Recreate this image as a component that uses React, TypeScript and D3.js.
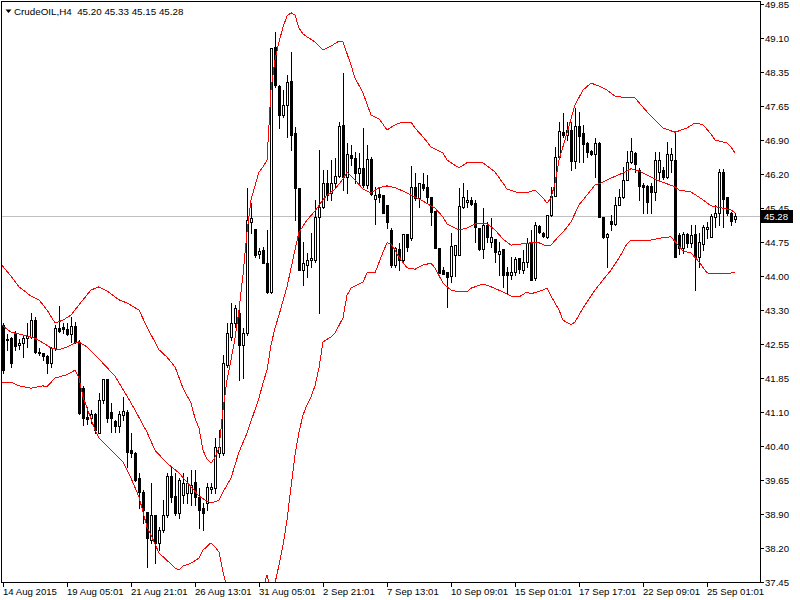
import React from "react";
import * as d3 from "d3";

const symbolName = "CrudeOIL,H4";

const opens = [42.91,42.59,42.64,42.74,42.49,42.53,42.64,42.66,43.02,42.33,42.31,42.25,42.10,42.42,42.85,42.87,42.83,42.72,42.89,42.55,
41.55,40.93,40.90,40.99,40.58,41.29,41.75,41.03,40.84,40.73,40.97,41.03,40.21,40.15,39.61,39.31,38.88,38.27,38.81,38.21,
38.49,38.81,39.65,39.22,38.85,39.24,39.29,39.29,39.52,39.20,38.96,39.07,39.37,39.39,40.15,40.15,42.05,42.66,42.96,43.18,
42.48,42.74,45.14,44.99,44.45,44.53,44.25,43.63,48.92,48.08,47.45,47.67,48.19,47.06,45.87,44.10,44.21,44.32,44.32,45.25,
45.46,45.98,45.77,45.98,46.13,47.24,46.11,46.59,46.52,46.20,46.31,45.94,46.50,45.64,45.74,45.72,45.51,44.97,44.21,44.56,
44.32,44.88,44.79,45.90,45.66,45.96,45.90,45.68,45.38,44.58,44.10,44.06,43.97,44.43,44.43,45.46,45.57,45.62,45.55,45.01,
44.56,45.08,44.71,44.77,44.45,44.56,44.06,43.99,44.06,44.36,44.10,44.27,44.69,43.93,45.05,44.90,44.82,45.29,45.70,46.54,
47.09,47.02,47.13,46.46,47.21,47.06,46.85,46.67,46.61,46.85,45.25,44.82,45.16,45.10,45.51,45.68,46.05,46.44,46.63,46.26,
45.94,45.92,45.92,45.79,46.22,46.26,46.11,46.48,46.48,44.86,44.58,44.88,44.69,44.88,44.38,44.67,44.99,44.82,45.25,45.33,
46.22,45.68,45.33,45.20];

const highs = [42.95,42.72,42.66,42.79,42.61,42.70,42.96,43.18,43.09,42.42,42.31,42.27,42.44,42.91,43.33,42.96,42.96,43.09,42.98,42.59,
41.60,41.14,41.08,41.01,41.45,41.75,41.75,41.23,40.86,41.06,41.36,41.08,40.58,40.17,39.72,39.35,38.88,39.50,38.81,38.55,
39.13,39.72,39.85,39.72,39.61,39.72,39.63,39.78,39.78,39.39,39.07,39.50,39.50,40.47,40.65,42.27,42.96,43.39,43.35,43.31,
42.85,45.87,45.55,44.99,44.58,44.60,44.97,48.90,49.24,48.10,47.99,48.32,48.81,47.19,45.87,44.71,44.47,44.90,45.62,46.70,
46.26,46.26,46.48,46.52,47.30,48.36,46.85,46.80,46.65,46.63,47.17,46.80,46.54,45.89,45.87,45.72,45.51,45.01,44.60,44.69,
44.88,44.88,46.35,46.20,45.98,46.20,46.16,45.68,45.38,44.58,44.17,44.06,44.90,44.64,45.87,45.98,45.83,45.68,45.62,45.01,
45.44,45.14,45.23,44.77,44.71,44.56,44.17,44.38,44.38,44.36,44.53,44.79,44.97,45.14,45.08,44.92,45.29,45.90,46.76,47.30,
47.49,47.30,47.30,47.60,47.52,47.24,46.87,46.70,46.95,46.87,45.25,44.90,45.29,45.68,45.85,46.33,46.67,46.95,46.65,46.31,
45.98,45.94,45.98,46.65,46.65,46.33,46.87,46.74,47.09,44.90,44.92,44.90,45.08,45.08,44.90,45.08,45.14,45.31,45.51,46.29,
46.29,45.68,45.36,45.33];

const lows = [41.88,42.38,42.01,42.38,42.40,42.22,42.44,42.64,42.31,42.27,42.16,41.88,42.01,42.38,42.76,42.74,42.70,42.55,42.53,41.00,
40.75,40.78,40.80,40.58,40.58,41.23,40.82,40.60,40.60,40.60,40.86,39.85,40.06,39.54,38.96,38.64,37.69,38.21,37.77,38.05,
38.44,38.77,39.09,38.81,38.75,39.07,39.07,39.03,39.03,38.53,38.49,38.92,39.29,39.29,40.06,40.11,42.01,42.59,42.87,41.73,
41.77,42.70,44.90,44.38,44.36,44.25,43.61,43.61,48.06,47.17,47.41,46.98,46.70,45.18,44.10,43.78,43.95,44.17,44.27,43.17,
45.44,45.62,45.62,45.89,46.11,45.83,45.77,46.37,45.98,45.98,45.89,45.87,45.72,45.10,45.57,45.33,45.01,44.17,44.17,44.10,
44.27,44.51,44.75,45.62,45.46,45.83,45.55,45.08,44.58,44.04,44.02,43.30,43.84,43.97,44.43,45.44,45.46,45.51,44.71,44.53,
44.36,44.71,44.60,44.27,44.00,43.74,43.61,43.91,43.99,44.04,44.04,44.17,43.89,43.89,44.90,44.82,44.79,45.27,45.70,46.54,
46.98,46.91,46.26,46.31,46.44,46.44,46.55,46.59,46.11,45.25,44.79,44.17,44.97,45.08,45.51,45.66,46.05,46.41,46.22,45.62,
45.33,45.33,45.33,45.62,46.05,46.07,46.09,46.22,44.38,44.45,44.47,44.60,44.60,43.67,44.17,44.53,44.79,44.82,45.03,45.08,
45.03,45.29,45.08,45.15];

const closes = [41.94,42.62,42.10,42.46,42.53,42.64,42.68,43.02,42.33,42.31,42.25,42.10,42.42,42.85,42.79,42.83,42.72,42.89,42.55,41.01,
40.90,40.88,40.99,40.65,41.29,41.75,40.90,40.90,40.73,40.99,41.06,40.17,40.15,39.57,39.31,38.92,38.31,38.81,38.21,38.49,
38.81,39.65,39.20,38.85,39.57,39.50,39.50,39.46,39.20,38.92,38.85,39.42,39.42,40.28,40.28,42.10,42.74,42.96,43.28,42.48,
42.74,45.18,45.23,44.43,44.51,44.25,43.63,48.90,48.10,47.45,47.67,48.17,47.02,45.87,44.10,44.25,44.32,44.36,45.25,45.46,
45.99,45.72,45.99,46.13,47.21,46.11,46.61,46.52,46.20,46.31,45.94,46.50,45.74,45.72,45.68,45.33,45.14,44.21,44.58,44.32,
44.88,44.60,45.90,45.66,45.98,45.87,45.68,45.36,44.58,44.04,44.02,43.95,44.62,44.64,45.49,45.68,45.62,45.53,45.03,44.56,
45.08,44.82,44.82,44.49,44.51,43.99,43.99,44.06,44.34,44.12,44.27,44.69,43.89,45.08,44.92,44.84,45.29,45.70,46.54,47.11,
47.02,47.13,46.46,47.21,47.00,46.83,46.65,46.61,46.85,45.25,44.82,44.88,45.10,45.51,45.68,46.05,46.44,46.67,46.39,45.92,
45.90,45.57,45.79,46.48,46.48,46.11,46.61,46.61,44.38,44.58,44.88,44.69,44.86,44.38,44.71,45.03,45.03,45.27,45.33,46.22,
45.64,45.33,45.16,45.28];

// Bollinger bands: [bar index, price]
const upperBand: [number, number][] = [[-1,44.28],[2,43.97],[4,43.74],[7,43.54],[9,43.46],[11,43.24],[13,42.96],[15,43.02],[17,43.13],[20,43.46],[22,43.67],[24,43.74],[26,43.65],[29,43.46],[31,43.39],[34,43.24],[36,42.87],[39,42.38],[41,42.22],[43,42.01],[45,41.55],[47,41.23],[48,40.90],[49,40.69],[50,40.21],[51,40.02],[52,39.93],[53,40.06],[54,40.26],[55,41.08],[56,41.73],[57,42.16],[58,42.63],[59,43.24],[60,44.00],[61,44.92],[62,45.62],[63,45.92],[64,46.22],[65,46.33],[66,46.48],[67,47.99],[68,48.64],[69,49.03],[70,49.35],[71,49.59],[72,49.66],[73,49.61],[74,49.33],[75,49.20],[76,49.14],[78,49.03],[80,48.86],[82,48.94],[84,49.05],[85,49.03],[87,48.53],[88,48.25],[90,47.93],[92,47.45],[94,47.37],[96,47.13],[98,47.24],[100,47.30],[102,47.30],[103,47.17],[105,46.98],[107,46.76],[110,46.63],[111,46.48],[114,46.31],[116,46.42],[120,46.42],[123,46.22],[125,45.98],[126,45.85],[129,45.77],[131,45.77],[133,45.83],[135,45.66],[136,45.55],[137,45.66],[138,45.98],[139,46.48],[141,47.06],[143,47.67],[145,47.99],[147,48.14],[149,48.08],[151,47.99],[153,47.86],[156,47.82],[158,47.82],[161,47.52],[163,47.34],[165,47.17],[168,47.08],[171,47.17],[173,47.28],[175,47.24],[177,47.04],[178,46.91],[181,46.85],[182,46.76],[183,46.63]];

const middleBand: [number, number][] = [[-1,42.96],[2,42.76],[5,42.70],[8,42.63],[10,42.53],[12,42.42],[14,42.38],[16,42.44],[18,42.53],[19,42.55],[21,42.44],[24,42.18],[28,41.81],[31,41.38],[33,41.08],[36,40.60],[38,40.21],[41,39.93],[44,39.72],[47,39.42],[49,39.22],[51,39.11],[52,39.07],[54,39.13],[55,39.31],[57,39.61],[59,40.17],[61,40.58],[64,41.34],[65,41.66],[66,41.94],[67,42.48],[68,42.85],[69,43.13],[71,43.74],[73,44.54],[74,44.92],[76,45.18],[78,45.38],[80,45.62],[81,45.72],[83,45.85],[85,46.07],[86,46.22],[88,46.05],[90,45.85],[92,45.77],[94,45.88],[96,45.92],[98,45.88],[100,45.81],[103,45.68],[105,45.59],[108,45.44],[110,45.25],[111,45.10],[114,44.97],[116,45.01],[118,45.10],[121,45.10],[123,44.97],[125,44.77],[127,44.64],[130,44.67],[132,44.69],[134,44.69],[136,44.62],[137,44.64],[139,44.84],[140,44.92],[142,45.14],[144,45.51],[147,45.83],[148,45.94],[150,46.00],[152,46.09],[155,46.20],[157,46.29],[159,46.24],[162,46.11],[164,46.03],[168,45.90],[169,45.83],[172,45.79],[175,45.62],[177,45.49],[180,45.44],[182,45.40],[183,45.34]];

const lowerBand: [number, number][] = [[-1,41.66],[2,41.68],[4,41.60],[7,41.55],[10,41.60],[11,41.58],[13,41.77],[16,41.84],[18,41.94],[19,41.77],[20,41.36],[21,41.12],[23,40.65],[24,40.47],[27,40.21],[30,39.95],[32,39.61],[34,39.20],[35,38.88],[36,38.55],[37,38.38],[39,37.99],[42,37.75],[43,37.67],[44,37.62],[45,37.71],[47,37.77],[49,37.88],[50,38.05],[52,38.21],[53,38.12],[54,38.01],[55,37.58],[56,37.23],[57,37.06],[58,37.10],[59,37.10],[60,36.74],[61,36.24],[62,35.94],[63,36.15],[64,36.59],[65,37.23],[66,37.51],[67,37.19],[68,37.34],[69,37.73],[70,38.16],[71,38.70],[72,39.42],[73,40.11],[74,40.60],[75,40.97],[76,41.19],[77,41.36],[78,41.60],[79,41.99],[80,42.55],[82,42.66],[83,42.74],[85,43.07],[86,43.56],[87,43.71],[90,43.84],[91,44.04],[93,44.04],[95,44.49],[96,44.69],[97,44.67],[98,44.53],[99,44.38],[101,44.15],[103,44.12],[105,44.21],[107,44.25],[108,44.15],[110,43.82],[112,43.67],[114,43.63],[116,43.63],[117,43.71],[120,43.80],[122,43.74],[125,43.63],[127,43.54],[129,43.52],[131,43.63],[132,43.59],[135,43.67],[136,43.71],[137,43.54],[139,43.24],[140,43.02],[142,42.92],[143,42.98],[145,43.28],[148,43.67],[150,43.89],[152,44.10],[154,44.36],[156,44.67],[157,44.75],[161,44.73],[164,44.79],[167,44.82],[169,44.62],[170,44.51],[172,44.47],[174,44.28],[176,44.04],[178,44.02],[181,44.02],[183,44.06]];

const timeLabels = ["14 Aug 2015","19 Aug 05:01","21 Aug 21:01","26 Aug 13:01","31 Aug 05:01","2 Sep 21:01","7 Sep 13:01","10 Sep 09:01","15 Sep 01:01","17 Sep 17:01","22 Sep 09:01","25 Sep 01:01"];
const timeLabelBars = [0,16,32,48,64,80,96,112,128,144,160,176];

const priceLabels = ["49.85","49.10","48.35","47.65","46.90","46.20","45.45","44.75","44.00","43.30","42.55","41.85","41.10","40.40","39.65","38.90","38.20","37.45"];

const FONT = "'Liberation Sans', Arial, sans-serif";

export default function App() {
  const width = 800, height = 600;
  const pl = 1, pt = 1, pr = 760, pb = 582;
  const n = closes.length;
  const x = d3.scaleLinear().domain([0, n - 1]).range([3, 735]);
  const y = d3.scaleLinear().domain([37.37, 49.843]).range([581.7, 4.3]);
  const tickPos = d3.scaleLinear().domain([0, priceLabels.length - 1]).range([4.3, 581.7]);
  const line = d3.line<[number, number]>().x(d => x(d[0])).y(d => y(d[1]));
  const fmt = d3.format(".2f");
  const last = n - 1;
  const lastY = Math.round(y(closes[last]));
  const header = `${symbolName}\u00a0\u00a0${fmt(opens[last])} ${fmt(highs[last])} ${fmt(lows[last])} ${fmt(closes[last])}`;

  return (
    <svg width={width} height={height} style={{ position: "absolute", left: 0, top: 0, background: "#fff" }}>
      <defs>
        <clipPath id="plotclip">
          <rect x={pl + 1} y={pt + 1} width={pr - pl - 1} height={pb - pt - 1} />
        </clipPath>
      </defs>
      <rect x={0} y={0} width={width} height={height} fill="#fff" />
      {/* current price line */}
      <line x1={pl} x2={pr} y1={lastY + 0.5} y2={lastY + 0.5} stroke="#c0c0c0" shapeRendering="crispEdges" />
      {/* candles */}
      <g shapeRendering="crispEdges" clipPath="url(#plotclip)">
        {closes.map((c, i) => {
          const o = opens[i];
          const cx = Math.round(x(i));
          const yh = Math.round(y(highs[i]));
          const yl = Math.round(y(lows[i]));
          const yt = Math.round(y(Math.max(o, c)));
          const yb = Math.round(y(Math.min(o, c)));
          const bull = c >= o;
          return (
            <g key={i}>
              <line x1={cx + 0.5} x2={cx + 0.5} y1={yh} y2={yl + 1} stroke="#000" />
              {yb - yt >= 1 ? (
                <rect x={cx - 0.5} y={yt + 0.5} width={2} height={yb - yt} fill={bull ? "#fff" : "#000"} stroke="#000" />
              ) : (
                <line x1={cx - 1} x2={cx + 2} y1={yt + 0.5} y2={yt + 0.5} stroke="#000" />
              )}
            </g>
          );
        })}
      </g>
      {/* Bollinger bands */}
      <g clipPath="url(#plotclip)" fill="none" stroke="#ff0000" strokeWidth={1} shapeRendering="crispEdges">
        <path d={line(upperBand) || ""} />
        <path d={line(middleBand) || ""} />
        <path d={line(lowerBand) || ""} />
      </g>
      {/* frame */}
      <g stroke="#000" shapeRendering="crispEdges">
        <line x1={pl + 0.5} x2={pl + 0.5} y1={pt} y2={pb + 1} />
        <line x1={pl} x2={pr + 1} y1={pt + 0.5} y2={pt + 0.5} />
        <line x1={pr + 0.5} x2={pr + 0.5} y1={pt} y2={pb + 1} />
        <line x1={pl} x2={pr + 1} y1={pb + 0.5} y2={pb + 0.5} />
      </g>
      {/* price axis */}
      <g fontFamily={FONT} fontSize={9.6} fill="#000">
        {priceLabels.map((lab, i) => {
          const ty = Math.round(tickPos(i));
          return (
            <g key={lab}>
              <line x1={pr + 1} x2={pr + 4} y1={ty + 0.5} y2={ty + 0.5} stroke="#000" shapeRendering="crispEdges" />
              <text x={765} y={ty + 4}>{lab}</text>
            </g>
          );
        })}
      </g>
      {/* current price box */}
      <rect x={761} y={lastY - 6} width={32} height={13} fill="#000" />
      <text x={764} y={lastY + 4} fontFamily={FONT} fontSize={9.6} fill="#fff">{fmt(closes[last])}</text>
      {/* time axis */}
      <g fontFamily={FONT} fontSize={9.6} fill="#000">
        {timeLabels.map((lab, k) => {
          const tx = Math.round(x(timeLabelBars[k]));
          return (
            <g key={lab}>
              <line x1={tx + 0.5} x2={tx + 0.5} y1={pb + 1} y2={pb + 5} stroke="#000" shapeRendering="crispEdges" />
              <text x={tx} y={595}>{lab}</text>
            </g>
          );
        })}
      </g>
      {/* header */}
      <path d="M5.5,9.5 L11.5,9.5 L8.5,13 Z" fill="#000" />
      <text x={14} y={15} fontFamily={FONT} fontSize={9.8} fill="#000">{header}</text>
    </svg>
  );
}
